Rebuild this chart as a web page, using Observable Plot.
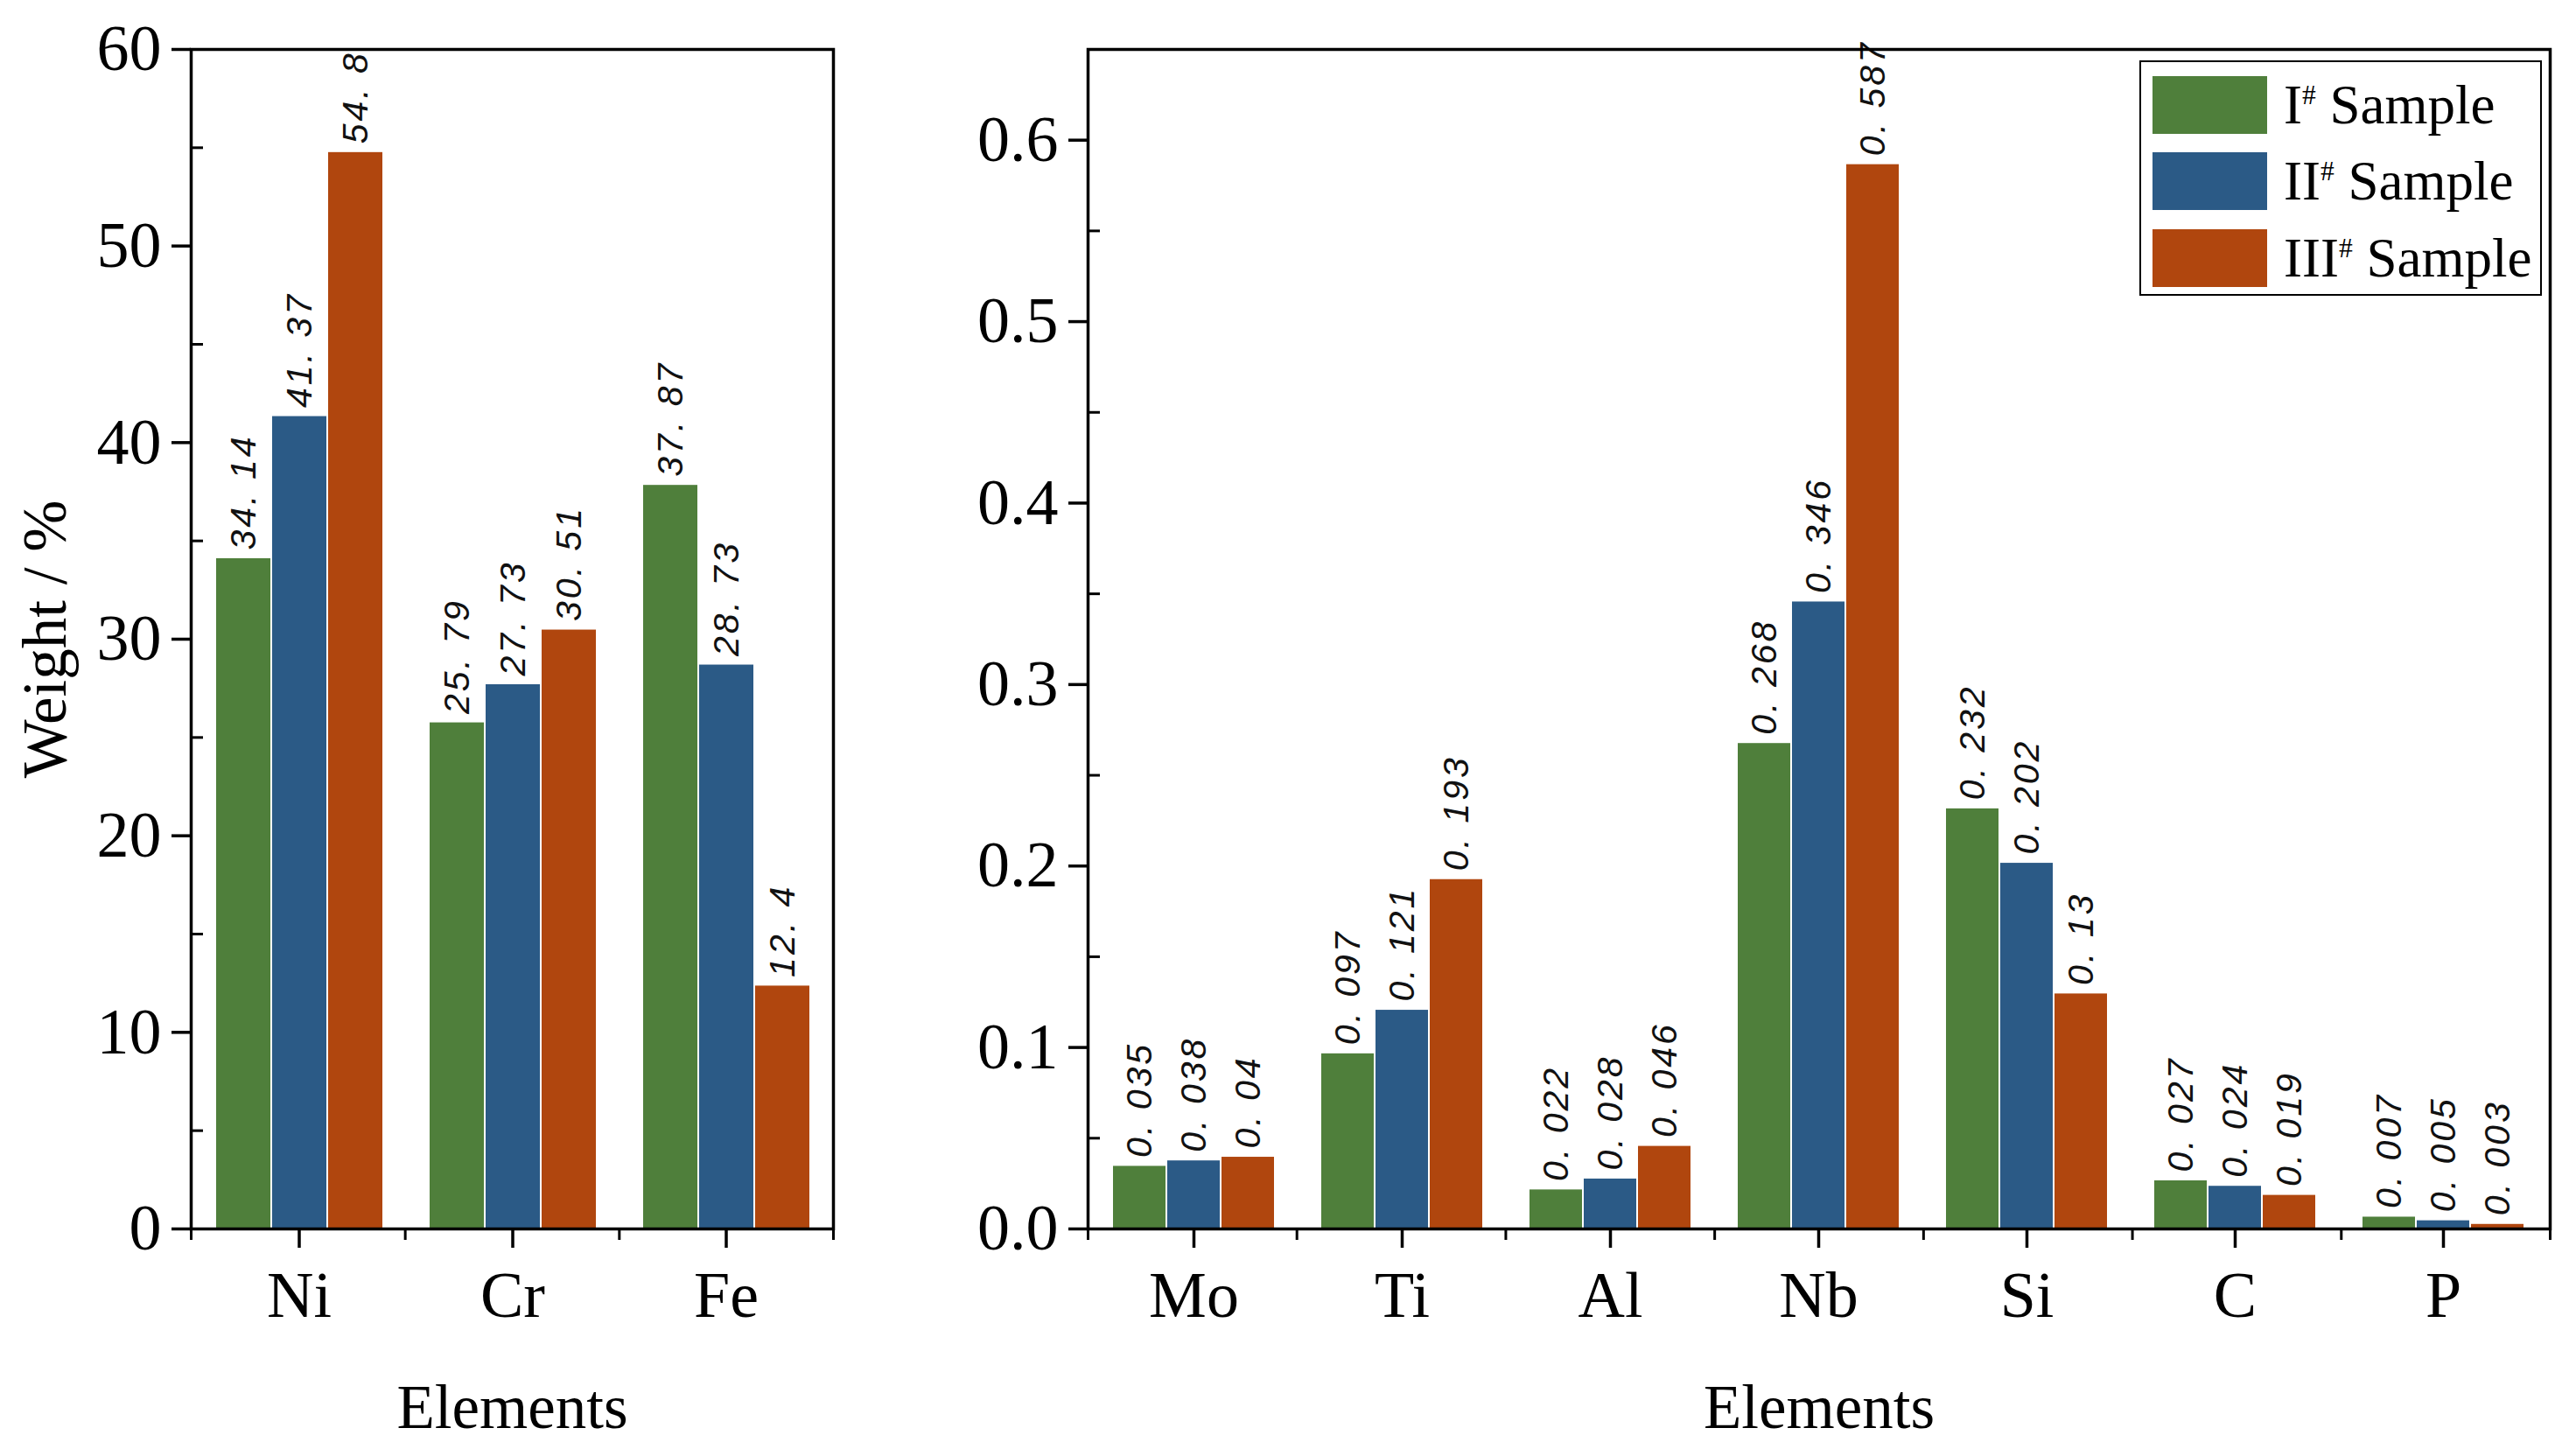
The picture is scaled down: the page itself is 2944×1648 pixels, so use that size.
<!DOCTYPE html>
<html><head><meta charset="utf-8">
<script src="https://cdn.jsdelivr.net/npm/d3@7"></script>
<script src="https://cdn.jsdelivr.net/npm/@observablehq/plot@0.6"></script>
<style>
html,body{margin:0;padding:0;background:#fff;}
#fig{position:relative;width:2944px;height:1648px;background:#fff;overflow:hidden;}
.layer{position:absolute;top:0;}
.legend{position:absolute;left:2445px;top:69px;width:460px;height:269px;box-sizing:border-box;border:2.5px solid #000;font-family:"Liberation Serif";font-size:63px;color:#000;background:#fff;}
.row{position:absolute;left:13px;display:flex;align-items:center;height:66px;white-space:nowrap;}
.sw{width:131px;height:66px;margin-right:19px;flex:none;}
.row sup{font-size:0.5em;vertical-align:22px;line-height:0;}
</style></head>
<body><div id="fig"></div>
<script>
const samples = ["I", "II", "III"];
const colors = ["#4f7f3b", "#2b5a86", "#b0460e"];

const mainElements = ["Ni", "Cr", "Fe"];
const mainI = [34.14, 25.79, 37.87];
const mainII = [41.37, 27.73, 28.73];
const mainIII = [54.8, 30.51, 12.4];

const traceElements = ["Mo", "Ti", "Al", "Nb", "Si", "C", "P"];
const traceI = [0.035, 0.097, 0.022, 0.268, 0.232, 0.027, 0.007];
const traceII = [0.038, 0.121, 0.028, 0.346, 0.202, 0.024, 0.005];
const traceIII = [0.04, 0.193, 0.046, 0.587, 0.13, 0.019, 0.003];

const mainTicks = [0, 10, 20, 30, 40, 50, 60];
const mainMinor = [5, 15, 25, 35, 45, 55];
const traceTicks = [0, 0.1, 0.2, 0.3, 0.4, 0.5, 0.6];
const traceMinor = [0.05, 0.15, 0.25, 0.35, 0.45, 0.55];

const H = 1648, MT = 56, MB = 244;
const fig = document.getElementById("fig");
const fmt = v => String(v).replace(".", ". ");

function panel({elements, series, yDomain, yTicks, yMinor, yFormat, yLabel, left, width, marginLeft, marginRight}) {
  const data = [];
  elements.forEach((el, i) => samples.forEach((s, j) => data.push({element: el, sample: s, value: series[j][i]})));
  const common = {
    width, height: H, marginTop: MT, marginBottom: MB, marginLeft, marginRight,
    style: {fontFamily: "Liberation Serif", fontSize: "74px", color: "#000", background: "transparent", overflow: "visible"}
  };
  const bars = Plot.plot({
    ...common,
    fx: {domain: elements, paddingInner: 0.21, paddingOuter: 0.105, label: null},
    x: {domain: samples, padding: 0, axis: null},
    y: {domain: yDomain, axis: null},
    color: {domain: samples, range: colors},
    marks: [
      Plot.barY(data, {fx: "element", x: "sample", y: "value", fill: "sample", stroke: "white", strokeWidth: 2}),
      Plot.text(data, {fx: "element", x: "sample", y: "value", text: d => fmt(d.value), rotate: -90,
        textAnchor: "start", lineAnchor: "middle", dy: -9, fontFamily: "Liberation Sans", fontStyle: "italic", fontSize: 41, fill: "#111"}),
      Plot.axisFx({anchor: "bottom", tickSize: 22, tickPadding: 26, fontSize: 74, strokeWidth: 3.5, label: null})
    ]
  });
  bars.querySelectorAll('g[aria-label="text"] text').forEach(t => t.style.letterSpacing = "3px");
  const axes = Plot.plot({
    ...common,
    x: {domain: [0, elements.length]},
    y: {domain: yDomain},
    marks: [
      Plot.frame({stroke: "#000", strokeWidth: 3.5}),
      Plot.axisY(yTicks, {tickSize: 22, tickPadding: 12, tickFormat: yFormat, fontSize: 74, strokeWidth: 3.5, label: null}),
      Plot.axisY(yMinor, {tickSize: 14, dx: 14, tickFormat: () => "", strokeWidth: 3, label: null}),
      Plot.axisX(d3.range(elements.length + 1), {anchor: "bottom", tickSize: 13, tickFormat: () => "", strokeWidth: 3, label: null}),
      yLabel ? Plot.text([yLabel], {text: d => d, frameAnchor: "left", textAnchor: "middle", lineAnchor: "middle", dx: -166, rotate: -90, fontSize: 71}) : null,
      Plot.text(["Elements"], {text: d => d, frameAnchor: "bottom", textAnchor: "middle", lineAnchor: "middle", dy: 205, fontSize: 71})
    ]
  });
  for (const svg of [bars, axes]) {
    const wrap = document.createElement("div");
    wrap.className = "layer";
    wrap.style.left = left + "px";
    wrap.appendChild(svg);
    fig.appendChild(wrap);
  }
}

panel({elements: mainElements, series: [mainI, mainII, mainIII], yDomain: [0, 60], yTicks: mainTicks, yMinor: mainMinor,
  yFormat: d => String(d), yLabel: "Weight / %", left: 0, width: 980, marginLeft: 218, marginRight: 28});
panel({elements: traceElements, series: [traceI, traceII, traceIII], yDomain: [0, 0.65], yTicks: traceTicks, yMinor: traceMinor,
  yFormat: d => d.toFixed(1), yLabel: null, left: 980, width: 1964, marginLeft: 263, marginRight: 30});

// legend
const legend = document.createElement("div");
legend.className = "legend";
const rowTops = [16, 103, 191];
samples.forEach((s, i) => {
  const row = document.createElement("div");
  row.className = "row";
  row.style.top = rowTops[i] + "px";
  const sw = document.createElement("div");
  sw.className = "sw";
  sw.style.background = colors[i];
  const label = document.createElement("span");
  label.innerHTML = s + "<sup>#</sup> Sample";
  row.appendChild(sw);
  row.appendChild(label);
  legend.appendChild(row);
});
fig.appendChild(legend);
</script>
</body></html>
